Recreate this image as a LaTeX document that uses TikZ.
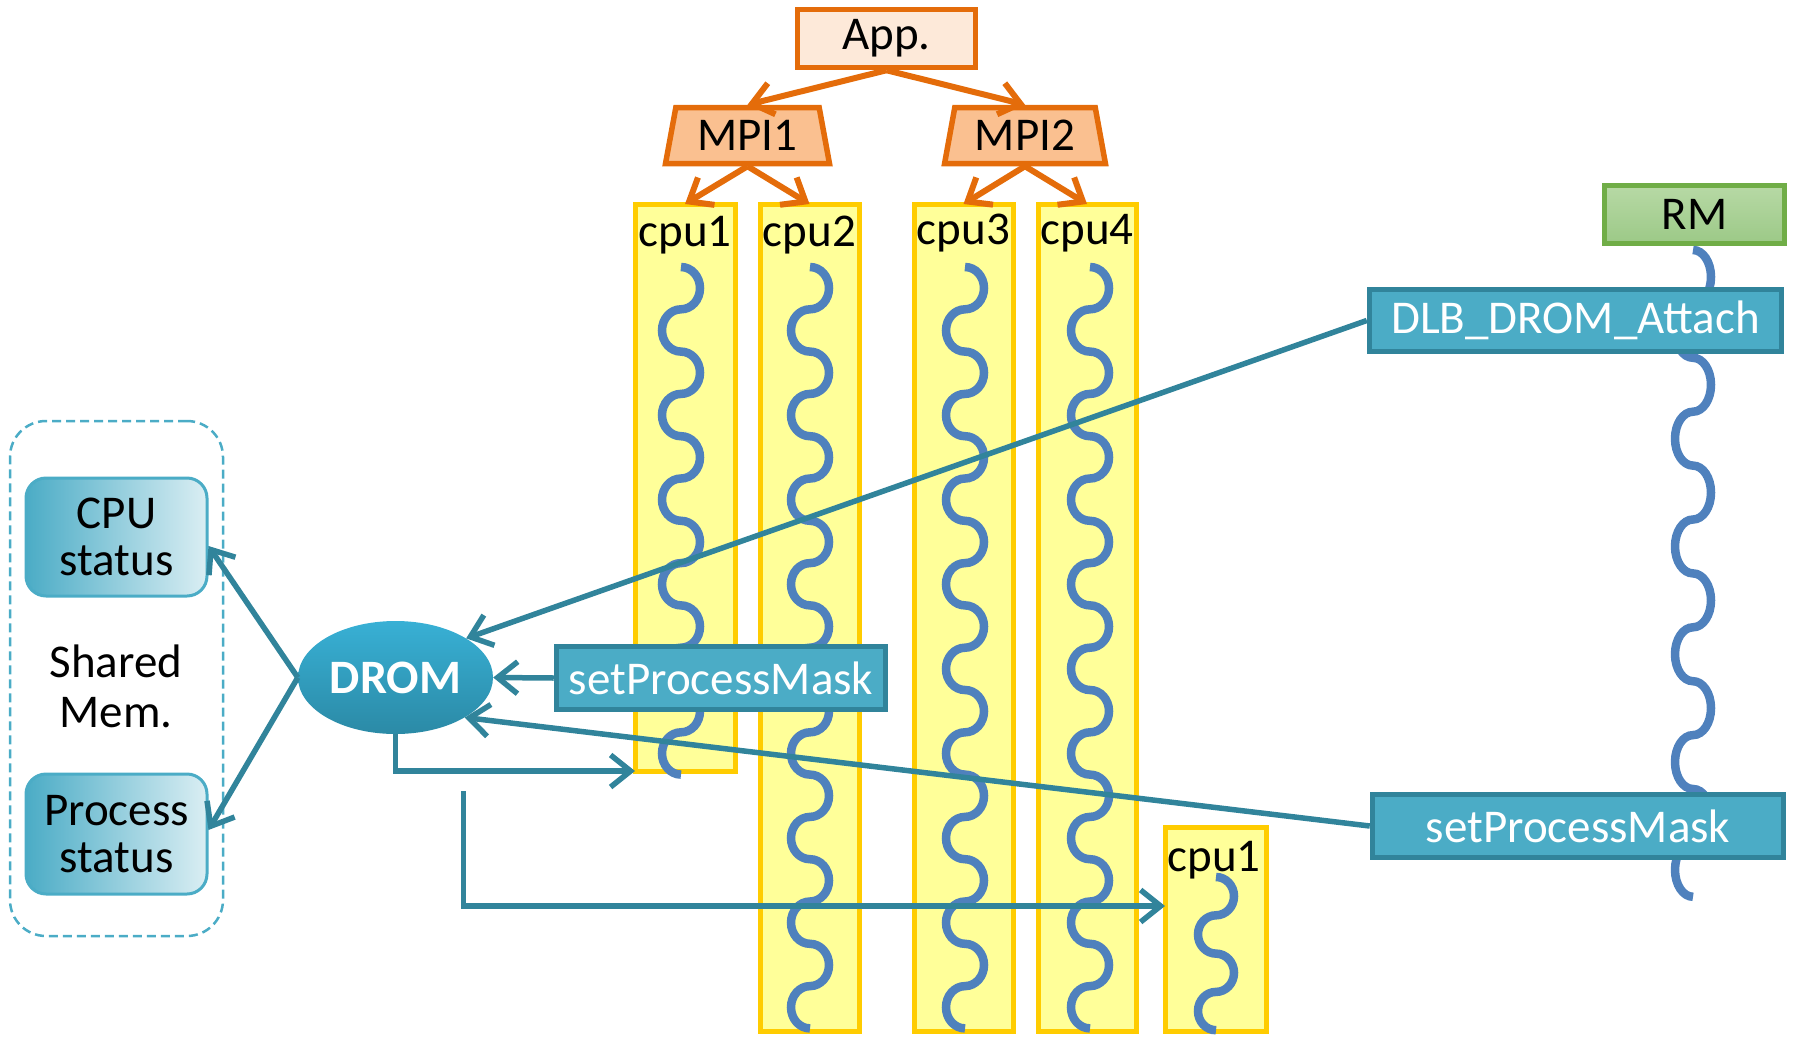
\documentclass[tikz,border=0pt]{standalone}
\usepackage{fontspec}
\setmainfont{Carlito}
\usetikzlibrary{arrows.meta,shapes.geometric,calc}
\definecolor{orng}{HTML}{E46C0A}
\definecolor{appfill}{HTML}{FDE9D9}
\definecolor{mpifill}{HTML}{FAC090}
\definecolor{cpufill}{HTML}{FFFF99}
\definecolor{cpubord}{HTML}{FFCC00}
\definecolor{wavec}{HTML}{4F81BD}
\definecolor{tealfill}{HTML}{4BACC6}
\definecolor{tealdark}{HTML}{31849B}
\definecolor{lightteal}{HTML}{DAEEF3}
\definecolor{rmtop}{HTML}{B7D9A5}
\definecolor{rmbot}{HTML}{9CC987}
\definecolor{rmbord}{HTML}{70AD47}
\definecolor{dromtop}{HTML}{38B0D5}
\definecolor{dromBot}{HTML}{2B8AA6}
\newcommand\bigfont{\fontsize{47pt}{47pt}\selectfont}
\newcommand\wavy[5]{% x, y0, last index, h, r
  \draw[wave] (#1,#2) foreach \i [evaluate=\i as \ya using #2+\i*#4, evaluate=\i as \s using cos(180*\i)] in {0,...,#3} {
    .. controls ({#1+0.5523*\s*#5},{\ya}) and ({#1+\s*#5},{\ya+0.22385*#4}) .. ({#1+\s*#5},{\ya+0.5*#4})
    .. controls ({#1+\s*#5},{\ya+0.77615*#4}) and ({#1+0.5523*\s*#5},{\ya+#4}) .. ({#1},{\ya+#4})
  };
}
\begin{document}
\begin{tikzpicture}[x=1pt,y=-1pt,
  cpubox/.style={draw=cpubord,fill=cpufill,line width=5pt,inner sep=0pt,outer sep=0pt},
  cpulbl/.style={font=\bigfont,anchor=base,inner sep=0pt},
  wave/.style={draw=wavec,line width=8.5pt},
  orangebox/.style={draw=orng,line width=5.5pt,font=\bigfont,inner sep=0pt},
  callbox/.style={draw=tealdark,fill=tealfill,line width=5.5pt,text=white,font=\bigfont,inner sep=0pt},
  conn/.style={draw=tealdark,line width=5.5pt,-{Straight Barb[length=20pt,width=32pt]}},
  oconn/.style={draw=orng,line width=6pt,-{Straight Barb[length=20pt,width=32pt]}},
  statbox/.style={draw=tealfill,line width=3pt,rounded corners=20pt,left color=tealfill,right color=lightteal,font=\bigfont,align=center,inner sep=0pt,minimum width=181pt},
]
\useasboundingbox (0,0) rectangle (1793,1036);
% cpu columns
\node[cpubox,minimum width=100pt,minimum height=567pt] (cpu1) at (685,487.5) {};
\node[cpubox,minimum width=99pt,minimum height=827pt] (cpu2) at (809.5,617.5) {};
\node[cpubox,minimum width=99pt,minimum height=827pt] (cpu3) at (963.5,617.5) {};
\node[cpubox,minimum width=98pt,minimum height=827pt] (cpu4) at (1087,617.5) {};
\node[cpubox,minimum width=101pt,minimum height=204pt] (cpu5) at (1215.5,929) {};
\node[cpulbl] (l1) at (685,246) {cpu1};
\node[cpulbl] (l2) at (809.5,246) {cpu2};
\node[cpulbl] (l3) at (963.5,244) {cpu3};
\node[cpulbl] (l4) at (1087,244) {cpu4};
\node[cpulbl] (l5) at (1214,871) {cpu1};
% threads
\wavy{681}{267}{11}{42.3}{19}
\wavy{810}{267}{17}{42.3}{19}
\wavy{965}{267}{17}{42.3}{19}
\wavy{1090}{267}{17}{42.3}{19}
\wavy{1216}{877}{3}{38.3}{18}
\wavy{1693}{250}{11}{53.9}{18}
% boxes
\node[orangebox,fill=appfill,minimum width=178pt,minimum height=58pt] (app) at (886.5,38.5) {App.};
\node[orangebox,fill=mpifill,trapezium,trapezium angle=76.6,trapezium stretches=true,minimum width=164pt,minimum height=56pt] (mpi1) at (747.5,135.5) {MPI1};
\node[orangebox,fill=mpifill,trapezium,trapezium angle=76.6,trapezium stretches=true,minimum width=161pt,minimum height=56pt] (mpi2) at (1025,135.5) {MPI2};
\node[draw=rmbord,line width=5.5pt,top color=rmtop,bottom color=rmbot,font=\bigfont,minimum width=180pt,minimum height=58pt,inner sep=0pt] (rm) at (1694.5,214.5) {RM};
\node[callbox,minimum width=412pt,minimum height=62pt] (dlb) at (1575.5,320.5) {DLB\_DROM\_Attach};
\node[callbox,minimum width=329pt,minimum height=63pt] (spm1) at (721,678) {setProcessMask};
\node[callbox,minimum width=411pt,minimum height=63pt] (spm2) at (1578,826) {setProcessMask};
\node[ellipse,top color=dromtop,bottom color=dromBot,minimum width=195pt,minimum height=113pt,inner sep=0pt,text=white,font=\fontsize{48pt}{48pt}\selectfont\bfseries] (drom) at (395.5,677.5) {DROM};
\node[draw=tealfill,dash pattern=on 9pt off 5pt,line width=2.5pt,rounded corners=36pt,minimum width=213pt,minimum height=515pt] (shm) at (116.5,678.5) {};
\node[font=\fontsize{47pt}{50pt}\selectfont,align=center,inner sep=0pt] (shmtxt) at (116,686) {Shared\\Mem.};
\node[statbox,minimum height=118pt] (cpustat) at (116.5,537) {CPU\\status};
\node[statbox,minimum height=120pt] (procstat) at (116.5,834) {Process\\status};
% connectors
\draw[conn] (drom.west) -- ([yshift=-9pt]cpustat.east);
\draw[conn] (drom.west) -- ([yshift=4pt]procstat.east);
\draw[conn] (dlb.west) -- (drom.29);
\draw[conn] (spm1.west) -- (drom.east);
\draw[conn] (spm2.west) -- (drom.-30);
\draw[conn] (drom.south) |- (cpu1.south west);
\coordinate (p0) at (463.5,791);
\draw[conn] (p0) |- ([yshift=23pt]cpu5.west);
\draw[oconn] (app.south) -- (mpi1.north);
\draw[oconn] (app.south) -- (mpi2.north);
\draw[oconn] (mpi1.south) -- (cpu1.north);
\draw[oconn] (mpi1.south) -- (cpu2.north);
\draw[oconn] (mpi2.south) -- (cpu3.north);
\draw[oconn] (mpi2.south) -- (cpu4.north);
\end{tikzpicture}
\end{document}
